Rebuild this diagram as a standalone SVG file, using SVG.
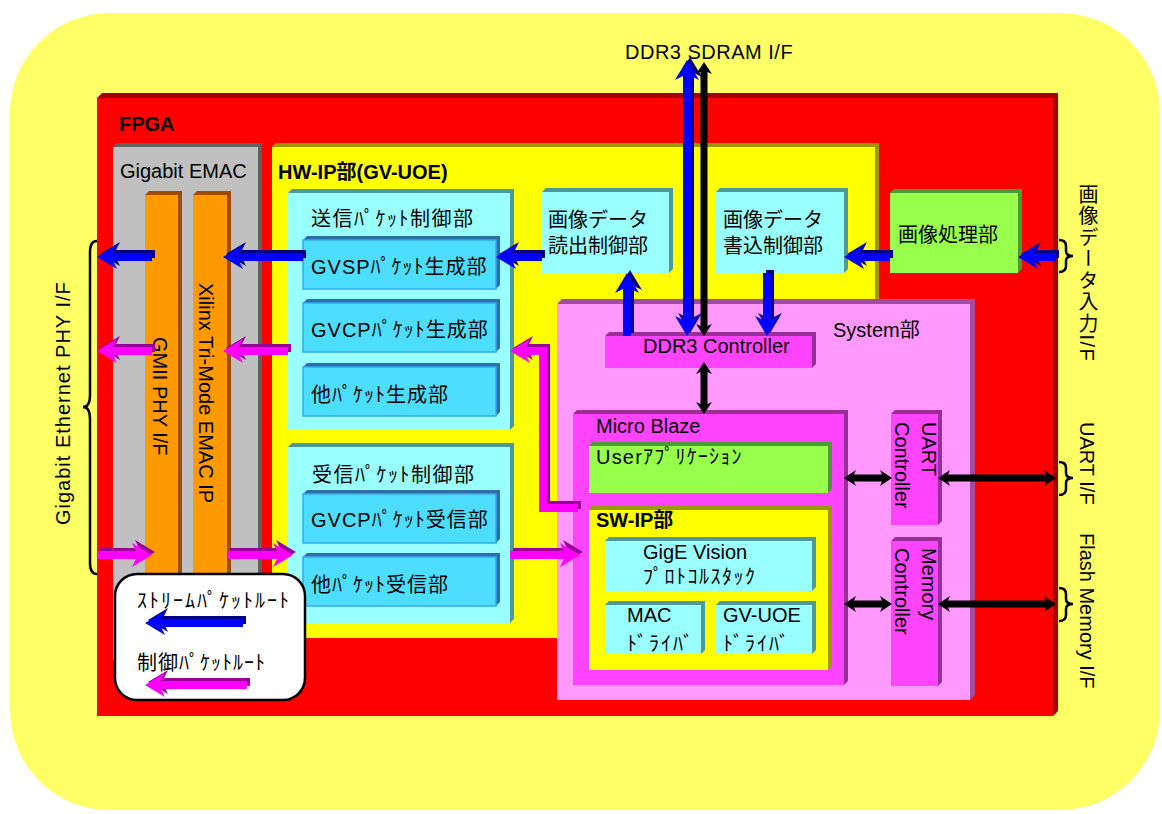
<svg xmlns="http://www.w3.org/2000/svg" width="1162" height="814" viewBox="0 0 1162 814">
<style>
.t{font-family:"Liberation Sans","Noto Sans CJK JP",sans-serif;font-size:20px;fill:#000}
.b{font-weight:bold}
.red{fill:#FF0000}.redd{fill:#A00000}
.gry{fill:#C0C0C0}.gryd{fill:#606060}
.org{fill:#FF9900}.orgd{fill:#A04A00}
.yel{fill:#FFFF00}.yeld{fill:#999900}
.cy{fill:#99FFFF}.cyd{fill:#4D9999}
.bx{fill:#4DDDFF;stroke:#33AAEE;stroke-width:1.5}.bxd{fill:#2F6FA8}
.grn{fill:#99FF4D}.grnd{fill:#4D9933}
.pk{fill:#FF99FF}.pkd{fill:#A04DA0}
.mgb{fill:#FF44FF}.mgbd{fill:#992E99}
.bl{fill:#0000FF}.bls{fill:#000080}
.mg{fill:#FF00FF}.mgs{fill:#990099}
.k{fill:#000}
.br{fill:none;stroke:#000;stroke-width:2.5}
</style>
<g id="background"><rect x="10" y="13" width="1150" height="797" rx="100" fill="#FFFF66"/></g>
<g id="fpga"><polygon class="redd" points="97,98 102,93 1058,93 1058,711 1053,716 1053,98"/><rect class="red" x="97" y="98" width="956" height="618"/><text class="t b" x="119" y="131">FPGA</text></g>
<g id="gigabit-emac"><polygon class="gryd" points="113,147 117,143 262,143 262,656 258,660 258,147"/><rect class="gry" x="113" y="147" width="145" height="513"/><text class="t" x="120" y="178">Gigabit EMAC</text></g>
<g id="gmii-phy-if"><polygon class="orgd" points="145,195 149,191 182,191 182,656 178,660 178,195"/><rect class="org" x="145" y="195" width="33" height="465"/><text class="t" transform="translate(153,337) rotate(90)">GMII PHY I/F</text></g>
<g id="xilinx-emac-ip"><polygon class="orgd" points="193,195 197,191 231,191 231,656 227,660 227,195"/><rect class="org" x="193" y="195" width="34" height="465"/><text class="t" transform="translate(199,283) rotate(90)">Xilinx Tri-Mode EMAC IP</text></g>
<g id="hw-ip"><polygon class="yeld" points="272,147 276,143 879,143 879,634 875,638 875,147"/><rect class="yel" x="272" y="147" width="603" height="491"/><text class="t b" x="278" y="179" font-size="21">HW-IP部(GV-UOE)</text></g>
<g id="send-ctrl"><polygon class="cyd" points="288,193 292,189 514,189 514,426 510,430 510,193"/><rect class="cy" x="288" y="193" width="222" height="237"/><text class="t" x="311" y="226" letter-spacing="1.5">送信ﾊﾟｹｯﾄ制御部</text></g>
<g id="gvsp-gen"><polygon class="bxd" points="303,240 307,236 500,236 500,285 496,289 496,240"/><rect class="bx" x="303" y="240" width="193" height="49"/><text class="t" x="311" y="274" letter-spacing="1">GVSPﾊﾟｹｯﾄ生成部</text></g>
<g id="gvcp-gen"><polygon class="bxd" points="303,303 307,299 500,299 500,348 496,352 496,303"/><rect class="bx" x="303" y="303" width="193" height="49"/><text class="t" x="311" y="337" letter-spacing="1">GVCPﾊﾟｹｯﾄ生成部</text></g>
<g id="other-gen"><polygon class="bxd" points="303,367 307,363 500,363 500,412 496,416 496,367"/><rect class="bx" x="303" y="367" width="193" height="49"/><text class="t" x="311" y="402" letter-spacing="1">他ﾊﾟｹｯﾄ生成部</text></g>
<g id="recv-ctrl"><polygon class="cyd" points="288,447 292,443 514,443 514,619 510,623 510,447"/><rect class="cy" x="288" y="447" width="222" height="176"/><text class="t" x="312" y="482" letter-spacing="1.5">受信ﾊﾟｹｯﾄ制御部</text></g>
<g id="gvcp-recv"><polygon class="bxd" points="303,494 307,490 500,490 500,539 496,543 496,494"/><rect class="bx" x="303" y="494" width="193" height="49"/><text class="t" x="311" y="527" letter-spacing="1">GVCPﾊﾟｹｯﾄ受信部</text></g>
<g id="other-recv"><polygon class="bxd" points="303,557 307,553 500,553 500,602 496,606 496,557"/><rect class="bx" x="303" y="557" width="193" height="49"/><text class="t" x="311" y="592" letter-spacing="1">他ﾊﾟｹｯﾄ受信部</text></g>
<g id="img-read"><polygon class="cyd" points="542,192 546,188 673,188 673,269 669,273 669,192"/><rect class="cy" x="542" y="192" width="127" height="81"/><text class="t" x="548" y="227">画像データ</text><text class="t" x="548" y="253">読出制御部</text></g>
<g id="img-write"><polygon class="cyd" points="716,192 720,188 848,188 848,269 844,273 844,192"/><rect class="cy" x="716" y="192" width="128" height="81"/><text class="t" x="723" y="227">画像データ</text><text class="t" x="723" y="253">書込制御部</text></g>
<g id="img-proc"><polygon class="grnd" points="890,193 894,189 1022,189 1022,269 1018,273 1018,193"/><rect class="grn" x="890" y="193" width="128" height="80"/><text class="t" x="898" y="242">画像処理部</text></g>
<g id="system"><polygon class="pkd" points="557,304 562,299 975,299 975,695 970,700 970,304"/><rect class="pk" x="557" y="304" width="413" height="396"/><text class="t" x="833" y="337">System部</text></g>
<g id="ddr3-ctrl"><polygon class="mgbd" points="605,336 609,332 816,332 816,364 812,368 812,336"/><rect class="mgb" x="605" y="336" width="207" height="32"/><text class="t" x="643" y="353">DDR3 Controller</text></g>
<g id="micro-blaze"><polygon class="mgbd" points="573,414 577,410 848,410 848,681 844,685 844,414"/><rect class="mgb" x="573" y="414" width="271" height="271"/><text class="t" x="596" y="433">Micro Blaze</text></g>
<g id="user-app"><polygon class="grnd" points="589,446 593,442 832,442 832,489 828,493 828,446"/><rect class="grn" x="589" y="446" width="239" height="47"/><text class="t" x="596" y="464" font-size="18" letter-spacing="1.2">Userｱﾌﾟﾘｹｰｼｮﾝ</text></g>
<g id="sw-ip"><polygon class="yeld" points="589,510 593,506 832,506 832,666 828,670 828,510"/><rect class="yel" x="589" y="510" width="239" height="160"/><text class="t b" x="596" y="527">SW-IP部</text></g>
<g id="gige-stack"><polygon class="cyd" points="605,541 609,537 816,537 816,587 812,591 812,541"/><rect class="cy" x="605" y="541" width="207" height="50"/><text class="t" x="643" y="559">GigE Vision</text><text class="t" x="643" y="584" letter-spacing="1.5">ﾌﾟﾛﾄｺﾙｽﾀｯｸ</text></g>
<g id="mac-driver"><polygon class="cyd" points="605,605 609,601 705,601 705,650 701,654 701,605"/><rect class="cy" x="605" y="605" width="96" height="49"/><text class="t" x="627" y="622">MAC</text><text class="t" x="627" y="651" letter-spacing="2">ﾄﾞﾗｲﾊﾞ</text></g>
<g id="gvuoe-driver"><polygon class="cyd" points="716,605 720,601 816,601 816,650 812,654 812,605"/><rect class="cy" x="716" y="605" width="96" height="49"/><text class="t" x="723" y="622">GV-UOE</text><text class="t" x="723" y="651" letter-spacing="2">ﾄﾞﾗｲﾊﾞ</text></g>
<g id="uart-ctrl"><polygon class="mgbd" points="891,414 895,410 942,410 942,521 938,525 938,414"/><rect class="mgb" x="891" y="414" width="47" height="111"/><text class="t" transform="translate(922,422) rotate(90)">UART<tspan x="0" dy="27">Controller</tspan></text></g>
<g id="memory-ctrl"><polygon class="mgbd" points="891,541 895,537 942,537 942,682 938,686 938,541"/><rect class="mgb" x="891" y="541" width="47" height="145"/><text class="t" transform="translate(922,548) rotate(90)">Memory<tspan x="0" dy="27">Controller</tspan></text></g>
<g id="legend"><rect x="115" y="574" width="190" height="126" rx="22" fill="#FFFFFF" stroke="#000" stroke-width="2.5"/><text class="t" x="137" y="608" letter-spacing="2">ｽﾄﾘｰﾑﾊﾟｹｯﾄﾙｰﾄ</text><polygon class="bls" transform="translate(3,-3)" points="145,623 165,611 161,619 243,619 243,627 161,627 165,635"/><polygon class="bl" points="145,623 165,611 161,619 243,619 243,627 161,627 165,635"/><text class="t" x="137" y="670" letter-spacing="1">制御ﾊﾟｹｯﾄﾙｰﾄ</text><polygon class="mgs" transform="translate(3,-3)" points="145,685 165,673 161,681 247,681 247,689 161,689 165,697"/><polygon class="mg" points="145,685 165,673 161,681 247,681 247,689 161,689 165,697"/></g>
<g id="connectors">
<g transform="translate(3,-3)">
<polygon class="bls" points="97,257 117,245 113,253 152,253 152,261 113,261 117,269"/>
<polygon class="bls" points="223,257 243,245 239,253 303,253 303,261 239,261 243,269"/>
<polygon class="bls" points="496,257 516,245 512,253 542,253 542,261 512,261 516,269"/>
<polygon class="bls" points="844,257 864,245 860,253 890,253 890,261 860,261 864,269"/>
<polygon class="bls" points="1018,257 1038,245 1034,253 1056,253 1056,261 1034,261 1038,269"/>
<polygon class="bls" points="627,273 639,293 631,289 631,336 623,336 623,289 615,293"/>
<polygon class="bls" points="767,336 755,316 763,320 763,273 771,273 771,320 779,316"/>
<polygon class="bls" points="687,60 699,80 691,76 691,320 699,316 687,336 675,316 683,320 683,76 675,80"/>
<polygon class="mgs" points="97,351 117,339 113,347 152,347 152,355 113,355 117,363"/>
<polygon class="mgs" points="223,351 243,339 239,347 288,347 288,355 239,355 243,363"/>
<polygon class="mgs" points="510,351 530,339 526,347 547,347 547,504 578,504 578,512 539,512 539,355 526,355 530,363"/>
<polygon class="mgs" points="152,555 132,543 136,551 97,551 97,559 136,559 132,567"/>
<polygon class="mgs" points="293,555 273,543 277,551 227,551 227,559 277,559 273,567"/>
<polygon class="mgs" points="580,555 560,543 564,551 510,551 510,559 564,559 560,567"/>
</g>
<polygon class="bl" points="97,257 117,245 113,253 152,253 152,261 113,261 117,269"/>
<polygon class="bl" points="223,257 243,245 239,253 303,253 303,261 239,261 243,269"/>
<polygon class="bl" points="496,257 516,245 512,253 542,253 542,261 512,261 516,269"/>
<polygon class="bl" points="844,257 864,245 860,253 890,253 890,261 860,261 864,269"/>
<polygon class="bl" points="1018,257 1038,245 1034,253 1056,253 1056,261 1034,261 1038,269"/>
<polygon class="bl" points="627,273 639,293 631,289 631,336 623,336 623,289 615,293"/>
<polygon class="bl" points="767,336 755,316 763,320 763,273 771,273 771,320 779,316"/>
<polygon class="bl" points="687,60 699,80 691,76 691,320 699,316 687,336 675,316 683,320 683,76 675,80"/>
<polygon class="mg" points="97,351 117,339 113,347 152,347 152,355 113,355 117,363"/>
<polygon class="mg" points="223,351 243,339 239,347 288,347 288,355 239,355 243,363"/>
<polygon class="mg" points="510,351 530,339 526,347 547,347 547,504 578,504 578,512 539,512 539,355 526,355 530,363"/>
<polygon class="mg" points="152,555 132,543 136,551 97,551 97,559 136,559 132,567"/>
<polygon class="mg" points="293,555 273,543 277,551 227,551 227,559 277,559 273,567"/>
<polygon class="mg" points="580,555 560,543 564,551 510,551 510,559 564,559 560,567"/>
<polygon class="k" points="704,62 712,74 707.5,72 707.5,326 712,324 704,336 696,324 700.5,326 700.5,72 696,74"/>
<polygon class="k" points="704,362 712,374 707.5,372 707.5,404 712,402 704,414 696,402 700.5,404 700.5,372 696,374"/>
<polygon class="k" points="844,478 856,470 854,474.5 882,474.5 880,470 892,478 880,486 882,481.5 854,481.5 856,486"/>
<polygon class="k" points="938,478 950,470 948,474.5 1046,474.5 1044,470 1056,478 1044,486 1046,481.5 948,481.5 950,486"/>
<polygon class="k" points="844,604 856,596 854,600.5 882,600.5 880,596 892,604 880,612 882,607.5 854,607.5 856,612"/>
<polygon class="k" points="938,604 950,596 948,600.5 1046,600.5 1044,596 1056,604 1044,612 1046,607.5 948,607.5 950,612"/>
</g>
<g id="external-labels">
<text class="t" x="625" y="59" letter-spacing="0.5">DDR3 SDRAM I/F</text>
<path class="br" d="M97,241 Q90,241 90,252 L90,395 Q90,407 83,407 Q90,407 90,419 L90,563 Q90,574 97,574"/>
<text class="t" transform="translate(70,525) rotate(-90)" letter-spacing="1">Gigabit Ethernet PHY I/F</text>
<path class="br" d="M1059,240 Q1066,240 1066,246 L1066,251 Q1066,256 1073,256 Q1066,256 1066,261 L1066,266 Q1066,272 1059,272"/>
<text class="t" x="1087" y="184" style="writing-mode:vertical-rl" letter-spacing="1.5">画像データ入力I/F</text>
<path class="br" d="M1059,462 Q1066,462 1066,468 L1066,473 Q1066,478 1073,478 Q1066,478 1066,483 L1066,489 Q1066,495 1059,495"/>
<text class="t" transform="translate(1080,422) rotate(90)">UART I/F</text>
<path class="br" d="M1059,588 Q1066,588 1066,594 L1066,599 Q1066,604 1073,604 Q1066,604 1066,609 L1066,615 Q1066,621 1059,621"/>
<text class="t" transform="translate(1080,533) rotate(90)">Flash Memory I/F</text>
</g>
</svg>
